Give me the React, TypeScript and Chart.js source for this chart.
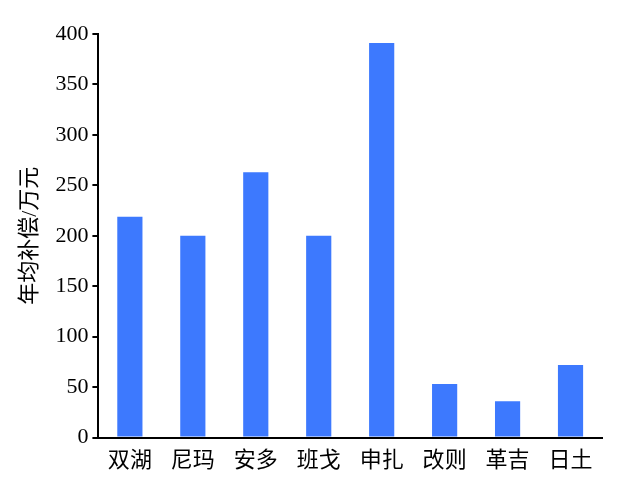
import React, { useEffect, useRef } from "react";
import { Chart, registerables } from "chart.js";

Chart.register(...registerables);

const categories = ["双湖", "尼玛", "安多", "班戈", "申扎", "改则", "革吉", "日土"];
const compensation = [219, 200, 263, 200, 391, 53, 36, 72];
const yTitle = "年均补偿/万元";

const FONT = "'Liberation Serif', 'Noto Sans CJK SC', serif";

export default function App() {
  const ref = useRef<HTMLCanvasElement | null>(null);
  useEffect(() => {
    if (!ref.current) return;
    const chart = new Chart(ref.current, {
      type: "bar",
      data: {
        labels: categories,
        datasets: [
          {
            data: compensation,
            backgroundColor: "#3d79fe",
            barPercentage: 0.4,
            categoryPercentage: 1,
          },
        ],
      },
      options: {
        animation: false,
        responsive: true,
        maintainAspectRatio: false,
        layout: { padding: { top: 34, right: 30, left: 13, bottom: 7 } },
        plugins: { legend: { display: false }, tooltip: { enabled: false } },
        scales: {
          x: {
            grid: { display: false },
            border: { display: true, color: "#000", width: 2 },
            ticks: { color: "#000", font: { family: FONT, size: 22 }, padding: 2 },
          },
          y: {
            min: 0,
            max: 400,
            grid: { drawOnChartArea: false, drawTicks: true, tickLength: 6, color: "#000", lineWidth: 2 },
            border: { display: true, color: "#000", width: 2 },
            ticks: { stepSize: 50, color: "#000", font: { family: FONT, size: 22 }, padding: 4 },
            title: { display: true, text: yTitle, color: "#000", font: { family: FONT, size: 22 }, padding: { top: 4, bottom: 8 } },
          },
        },
      },
    });
    return () => chart.destroy();
  }, []);
  return (
    <div style={{ position: "fixed", left: 0, top: 0, width: 632, height: 483, background: "#fff" }}>
      <canvas ref={ref} />
    </div>
  );
}
